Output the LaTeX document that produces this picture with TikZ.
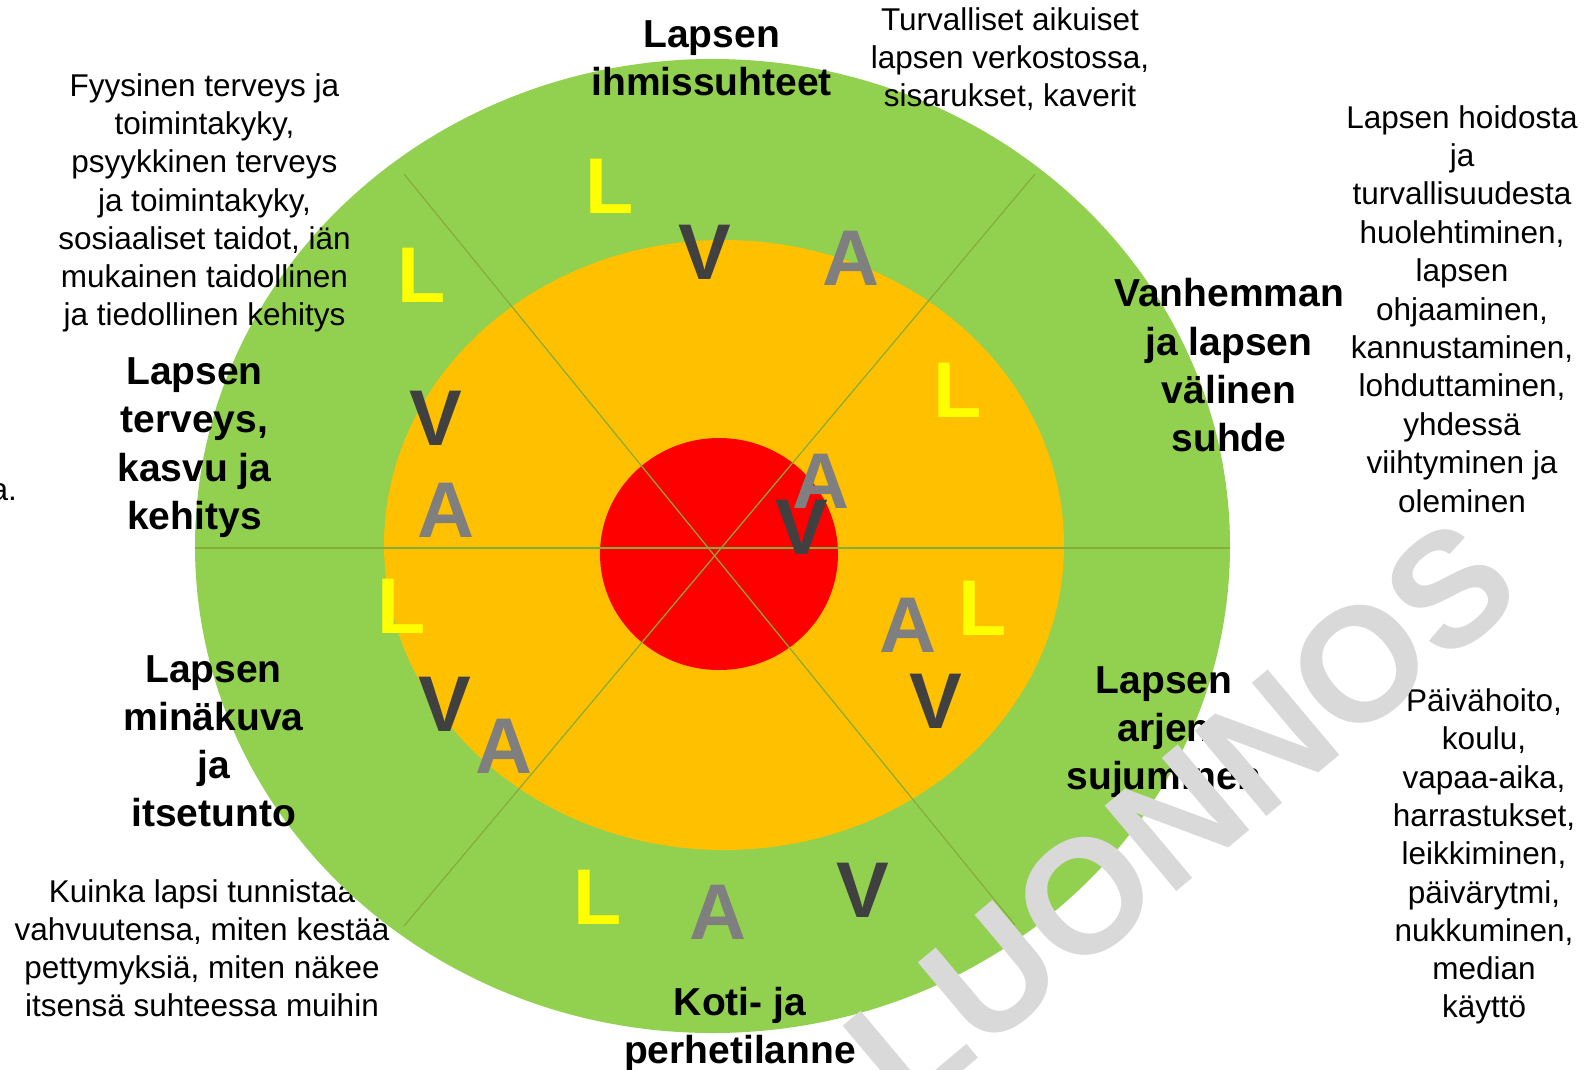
\documentclass[tikz,border=0pt]{standalone}
\usepackage{fontspec}
\setmainfont{Liberation Sans}
\definecolor{ringgreen}{HTML}{92D050}
\definecolor{ringorange}{HTML}{FFC000}
\definecolor{ringred}{HTML}{FF0000}
\definecolor{letyellow}{HTML}{FFFF00}
\definecolor{letdark}{HTML}{404040}
\definecolor{letgray}{HTML}{7F7F7F}
\definecolor{spokecol}{HTML}{86AC3A}
\definecolor{wmgray}{HTML}{D9D9D9}
\tikzset{
  body/.style={font=\fontsize{31.5}{38}\selectfont, inner sep=0pt, anchor=base},
  head/.style={font=\fontsize{39}{48}\selectfont\bfseries, inner sep=0pt, anchor=base},
  bigletter/.style={font=\fontsize{79}{90}\selectfont\bfseries, inner sep=0pt},
  letL/.style={bigletter, text=letyellow},
  letV/.style={bigletter, text=letdark},
  letA/.style={bigletter, text=letgray},
  spoke/.style={draw=spokecol, line width=1.2pt},
}
\begin{document}
\begin{tikzpicture}[x=1pt,y=-1pt]
\useasboundingbox (0,0) rectangle (1594,1069);
\fill[white] (0,0) rectangle (1594,1069);

% text partly hidden behind the outer ring
\foreach \t [count=\i from 0] in {Kuinka lapsi tunnistaa,{vahvuutensa, miten kestää},{pettymyksiä, miten näkee},itsensä suhteessa muihin}
  \node[body] (ku\i) at (202, 902+38.3*\i) {\t};

% rings
\fill[ringgreen] (712.5,546) ellipse [x radius=517.5, y radius=487];
\fill[ringorange] (724,545) ellipse [x radius=340, y radius=305];
\fill[ringred] (719,554) ellipse [x radius=119, y radius=116];

% spokes
\coordinate (c) at (715,548);
\coordinate (sw) at (195,548);
\coordinate (se) at (1230,548);
\coordinate (sul) at (404,174);
\coordinate (sur) at (1035,174);
\coordinate (sll) at (404,926);
\coordinate (slr) at (1015,925);
\draw[spoke] (sw) -- (se);
\draw[spoke] (sul) -- (slr);
\draw[spoke] (sur) -- (sll);

% descriptive texts
\foreach \t [count=\i from 0] in {Fyysinen terveys ja,{toimintakyky,},psyykkinen terveys,{ja toimintakyky,},{sosiaaliset taidot, iän},mukainen taidollinen,ja tiedollinen kehitys}
  \node[body] (fy\i) at (204.5, 96.7+38.1*\i) {\t};
\foreach \t [count=\i from 0] in {Turvalliset aikuiset,{lapsen verkostossa,},{sisarukset, kaverit}}
  \node[body] (tu\i) at (1010, 30+38.3*\i) {\t};
\foreach \t [count=\i from 0] in {Lapsen hoidosta,ja,turvallisuudesta,{huolehtiminen,},lapsen,{ohjaaminen,},{kannustaminen,},{lohduttaminen,},yhdessä,viihtyminen ja,oleminen}
  \node[body] (ho\i) at (1462, 128+38.4*\i) {\t};
\foreach \t [count=\i from 0] in {{Päivähoito,},{koulu,},{vapaa-aika,},{harrastukset,},{leikkiminen,},{päivärytmi,},{nukkuminen,},median,käyttö}
  \node[body] (pa\i) at (1484, 711.5+38.3*\i) {\t};
\node[body, anchor=base east] (aa) at (17,500) {a.};

% headings
\foreach \t [count=\i from 0] in {Lapsen,ihmissuhteet}
  \node[head] (ih\i) at (711.6, 47.5+48.3*\i) {\t};
\foreach \t [count=\i from 0] in {Vanhemman,ja lapsen,välinen,suhde}
  \node[head] (va\i) at (1229, 306.7+48.3*\i) {\t};
\foreach \t [count=\i from 0] in {Lapsen,{terveys,},kasvu ja,kehitys}
  \node[head] (te\i) at (194.5, 384.4+48.3*\i) {\t};
\foreach \t [count=\i from 0] in {Lapsen,minäkuva,ja,itsetunto}
  \node[head] (mi\i) at (213.5, 682+48.3*\i) {\t};
\foreach \t [count=\i from 0] in {Lapsen,arjen,sujuminen}
  \node[head] (ar\i) at (1164, 693.3+48.3*\i) {\t};
\foreach \t [count=\i from 0] in {Koti- ja,perhetilanne}
  \node[head] (ko\i) at (740, 1015+48*\i) {\t};

% big letters
\node[letL] (l1) at (610,186.5) {L};
\node[letL] (l2) at (422,275) {L};
\node[letL] (l3) at (957.5,390.5) {L};
\node[letL] (l4) at (401.5,606) {L};
\node[letL] (l5) at (983,608) {L};
\node[letL] (l6) at (598,897) {L};
\node[letA] (a1) at (851.5,258.5) {A};
\node[letA] (a2) at (446,510) {A};
\node[letA] (a3) at (821.5,481) {A};
\node[letA] (a4) at (908,625) {A};
\node[letA] (a5) at (504,746) {A};
\node[letA] (a6) at (718,912) {A};
\node[letV] (v1) at (705,252) {V};
\node[letV] (v2) at (436,418) {V};
\node[letV] (v3) at (802,527) {V};
\node[letV] (v4) at (445,704.5) {V};
\node[letV] (v5) at (936,701.5) {V};
\node[letV] (v6) at (863,890.5) {V};

% watermark
\node[font=\fontsize{162}{175}\selectfont\bfseries, text=wmgray, inner sep=0pt, rotate=40] (wm) at (1181,815) {LUONNOS};
\end{tikzpicture}
\end{document}
